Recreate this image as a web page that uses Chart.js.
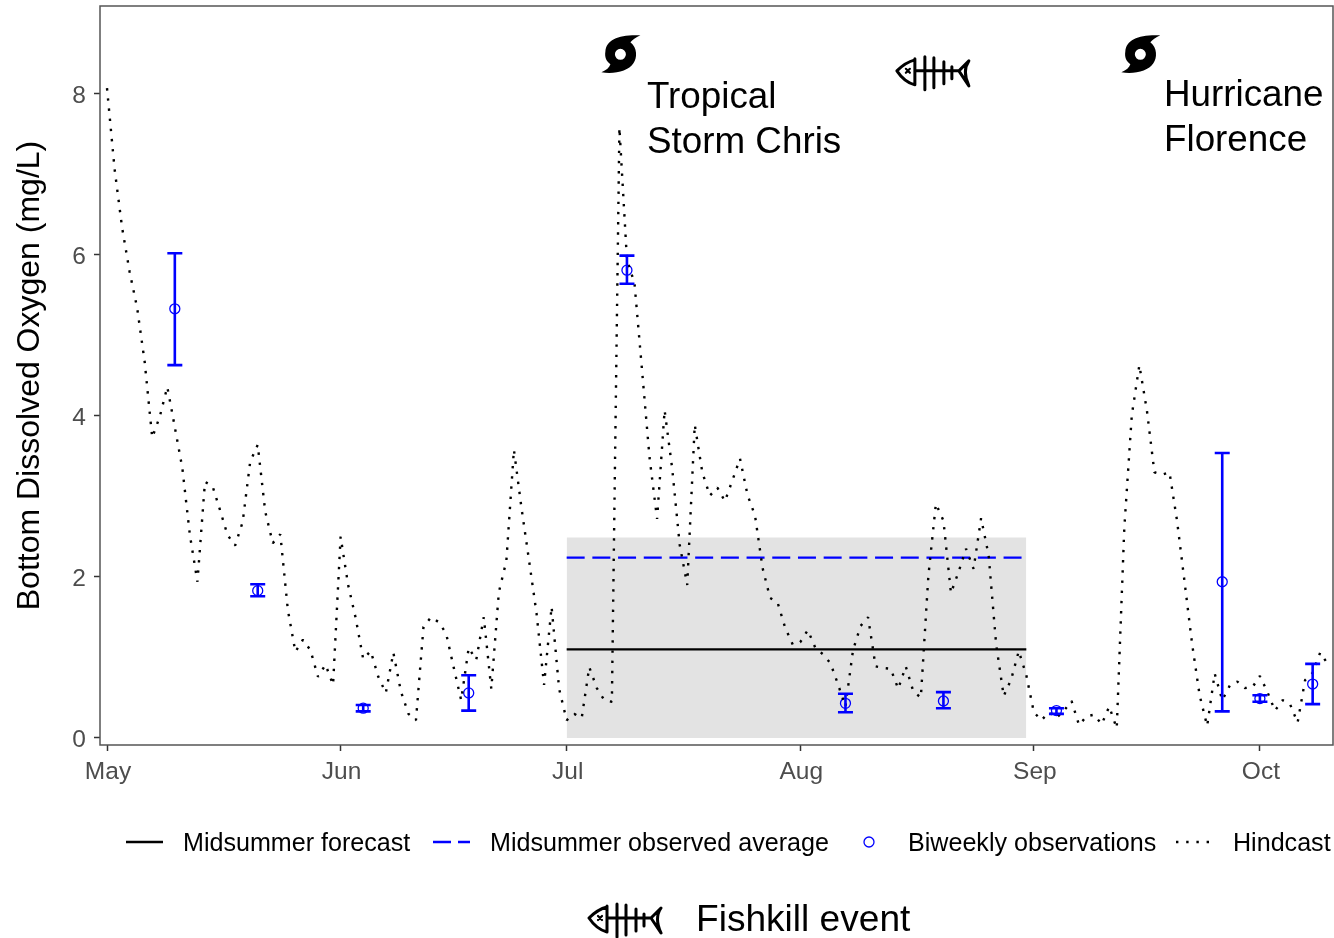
<!DOCTYPE html>
<html>
<head>
<meta charset="utf-8">
<title>Bottom dissolved oxygen</title>
<script src="https://cdn.jsdelivr.net/npm/chart.js@4/dist/chart.umd.js"></script>
<style>
  html, body { margin: 0; background: #fff; }
  canvas { display: block; }
</style>
</head>
<body>
<canvas id="chart" width="1334" height="938"></canvas>
<script>
// days since May 1
const monthDays = [0, 31, 61, 92, 123, 153];
const monthLabels = ['May', 'Jun', 'Jul', 'Aug', 'Sep', 'Oct'];
const doTicks = [0, 2, 4, 6, 8];

// daily hindcast, one value per day from May 1
const hindcast = [
  8.07, 7.07, 6.34, 5.79, 5.34, 4.67, 3.73, 3.99, 4.36, 3.86,
  3.35, 2.52, 1.94, 3.18, 3.13, 2.83, 2.52, 2.39, 2.68, 3.43,
  3.64, 2.81, 2.42, 2.53, 1.59, 1.07, 1.22, 1.09, 0.76, 0.91,
  0.66, 2.50, 1.90, 1.49, 0.98, 1.08, 0.76, 0.56, 1.06, 0.58,
  0.30, 0.22, 1.38, 1.50, 1.44, 1.30, 0.88, 0.47, 1.12, 0.97,
  1.50, 0.61, 1.81, 2.20, 3.58, 2.86, 2.21, 1.55, 0.66, 1.63,
  0.61, 0.22, 0.30, 0.25, 0.88, 0.62, 0.47, 0.45, 7.58, 5.94,
  5.65, 4.57, 3.48, 2.72, 4.07, 3.35, 2.40, 1.90, 3.89, 3.30,
  3.01, 3.11, 2.94, 3.20, 3.47, 3.02, 2.76, 2.11, 1.74, 1.68,
  1.37, 1.16, 1.19, 1.34, 1.12, 1.04, 0.93, 0.67, 0.39, 1.09,
  1.39, 1.50, 0.89, 0.87, 0.86, 0.61, 0.89, 0.58, 0.50, 2.01,
  2.91, 2.70, 1.80, 2.06, 2.35, 2.10, 2.73, 2.27, 1.16, 0.52,
  0.73, 1.08, 0.78, 0.32, 0.22, 0.32, 0.25, 0.34, 0.46, 0.16,
  0.27, 0.29, 0.17, 0.39, 0.12, 2.60, 4.01, 4.63, 4.07, 3.30,
  3.27, 3.30, 2.70, 1.94, 1.17, 0.53, 0.15, 0.80, 0.47, 0.65,
  0.70, 0.62, 0.63, 0.77, 0.57, 0.34, 0.47, 0.42, 0.19, 0.72,
  0.81, 1.06, 0.92
];

// biweekly observations with error bars
const obsDays = [9, 20, 34, 48, 69, 98, 111, 126, 148, 153, 160];
const obsMean = [5.33, 1.83, 0.37, 0.56, 5.81, 0.43, 0.46, 0.34, 1.94, 0.49, 0.67];
const obsHigh = [6.02, 1.91, 0.41, 0.78, 5.99, 0.55, 0.57, 0.37, 3.54, 0.53, 0.92];
const obsLow = [4.63, 1.76, 0.33, 0.34, 5.64, 0.32, 0.37, 0.30, 0.33, 0.45, 0.42];

// midsummer window
const midDays = [61, 122];
const forecastLine = [1.10, 1.10];
const observedLine = [2.24, 2.24];
const ribbonTop = [2.49, 2.49];

const stormDays = [68, 137];
const fishDay = 109.6;

const legendItems = ['Midsummer forecast', 'Midsummer observed average', 'Biweekly observations', 'Hindcast'];

const FONT = '"Liberation Sans", Arial, sans-serif';
const BLUE = '#0000ff';

function drawStorm(ctx, cx, cy) {
  const p = new Path2D();
  p.moveTo(cx - 15, cy - 3);
  p.bezierCurveTo(cx - 14, cy - 15, cx - 1, cy - 20, cx + 20, cy - 19);
  p.bezierCurveTo(cx + 15, cy - 17, cx + 12, cy - 14, cx + 10, cy - 12);
  p.bezierCurveTo(cx + 17, cy - 7, cx + 17, cy + 4, cx + 13, cy + 9);
  p.bezierCurveTo(cx + 8, cy + 17, cx - 6, cy + 20, cx - 19, cy + 18);
  p.bezierCurveTo(cx - 14, cy + 16, cx - 11, cy + 13, cx - 10, cy + 10);
  p.bezierCurveTo(cx - 14, cy + 7, cx - 16, cy + 3, cx - 15, cy - 3);
  p.closePath();
  p.moveTo(cx + 5.5, cy);
  p.arc(cx, cy, 5.5, 0, Math.PI * 2);
  ctx.fillStyle = '#000';
  ctx.fill(p, 'evenodd');
}

function drawFish(ctx, cx, cy) {
  ctx.save();
  ctx.strokeStyle = '#000';
  ctx.lineWidth = 3;
  ctx.lineJoin = 'round';
  ctx.lineCap = 'round';
  ctx.beginPath();
  // head
  ctx.moveTo(cx - 18, cy - 13);
  ctx.bezierCurveTo(cx - 26, cy - 11, cx - 32, cy - 6, cx - 36, cy - 2);
  ctx.bezierCurveTo(cx - 32, cy + 4, cx - 26, cy + 10, cx - 18, cy + 12);
  ctx.moveTo(cx - 18, cy - 14);
  ctx.lineTo(cx - 18, cy + 12);
  // spine and ribs
  ctx.moveTo(cx - 18, cy - 2);
  ctx.lineTo(cx + 26, cy - 2);
  ctx.moveTo(cx - 8, cy - 16);
  ctx.lineTo(cx - 8, cy + 17);
  ctx.moveTo(cx + 1, cy - 15);
  ctx.lineTo(cx + 1, cy + 15);
  ctx.moveTo(cx + 11, cy - 11);
  ctx.lineTo(cx + 11, cy + 11);
  ctx.moveTo(cx + 19, cy - 6);
  ctx.lineTo(cx + 19, cy + 6);
  // tail
  ctx.moveTo(cx + 26, cy - 2);
  ctx.lineTo(cx + 36, cy - 12);
  ctx.quadraticCurveTo(cx + 29, cy - 2, cx + 36, cy + 13);
  ctx.lineTo(cx + 26, cy - 2);
  ctx.stroke();
  // eye
  ctx.lineWidth = 2.2;
  ctx.beginPath();
  ctx.moveTo(cx - 27, cy - 4);
  ctx.lineTo(cx - 23, cy);
  ctx.moveTo(cx - 23, cy - 4);
  ctx.lineTo(cx - 27, cy);
  ctx.stroke();
  ctx.restore();
}

const errorBars = {
  id: 'errorBars',
  afterDatasetsDraw(chart) {
    const x = chart.scales.x, y = chart.scales.y, ctx = chart.ctx;
    ctx.save();
    ctx.strokeStyle = BLUE;
    ctx.lineWidth = 2.6;
    obsDays.forEach(function (d, i) {
      const px = x.getPixelForValue(d);
      const top = y.getPixelForValue(obsHigh[i]);
      const bot = y.getPixelForValue(obsLow[i]);
      ctx.beginPath();
      ctx.moveTo(px, top);
      ctx.lineTo(px, bot);
      ctx.moveTo(px - 7.5, top);
      ctx.lineTo(px + 7.5, top);
      ctx.moveTo(px - 7.5, bot);
      ctx.lineTo(px + 7.5, bot);
      ctx.stroke();
    });
    ctx.restore();
  }
};

const extras = {
  id: 'extras',
  afterDraw(chart) {
    const ctx = chart.ctx, a = chart.chartArea;
    const x = chart.scales.x, y = chart.scales.y;
    ctx.save();

    // panel border
    ctx.strokeStyle = '#555';
    ctx.lineWidth = 1.5;
    ctx.strokeRect(a.left, a.top, a.right - a.left, a.bottom - a.top);

    // storms and fish on the chart
    stormDays.forEach(function (d) {
      drawStorm(ctx, x.getPixelForValue(d) + 1, y.getPixelForValue(8.49));
    });
    drawFish(ctx, x.getPixelForValue(fishDay), y.getPixelForValue(8.26));

    ctx.fillStyle = '#000';
    ctx.textAlign = 'left';
    ctx.textBaseline = 'alphabetic';
    ctx.font = '36.8px ' + FONT;
    ctx.fillText('Tropical', 647, 108);
    ctx.fillText('Storm Chris', 647, 153);
    ctx.fillText('Hurricane', 1164, 106);
    ctx.fillText('Florence', 1164, 151);

    // legend row
    const ly = 842;
    ctx.strokeStyle = '#000';
    ctx.lineWidth = 2.4;
    ctx.beginPath();
    ctx.moveTo(126, ly);
    ctx.lineTo(163, ly);
    ctx.stroke();

    ctx.strokeStyle = BLUE;
    ctx.setLineDash([18, 7]);
    ctx.beginPath();
    ctx.moveTo(433, ly);
    ctx.lineTo(470, ly);
    ctx.stroke();
    ctx.setLineDash([]);

    ctx.lineWidth = 1.3;
    ctx.beginPath();
    ctx.arc(869, ly, 5, 0, Math.PI * 2);
    ctx.stroke();

    ctx.strokeStyle = '#000';
    ctx.lineWidth = 2.4;
    ctx.setLineDash([2.4, 7.8]);
    ctx.beginPath();
    ctx.moveTo(1176, ly);
    ctx.lineTo(1212, ly);
    ctx.stroke();
    ctx.setLineDash([]);

    ctx.font = '25.1px ' + FONT;
    ctx.fillText(legendItems[0], 183, 851);
    ctx.fillText(legendItems[1], 490, 851);
    ctx.fillText(legendItems[2], 908, 851);
    ctx.fillText(legendItems[3], 1233, 851);

    // fishkill key
    drawFish(ctx, 625, 920);
    ctx.font = '37.1px ' + FONT;
    ctx.fillText('Fishkill event', 696, 931);
    ctx.restore();
  }
};

function toPoints(days, values) {
  return days.map(function (d, i) { return { x: d, y: values[i] }; });
}

// keep the plot panel where it is, whatever the tick labels want
function noScalePadding(scale) {
  scale.paddingLeft = 0;
  scale.paddingRight = 0;
  scale.paddingTop = 0;
  scale.paddingBottom = 0;
}

const ctx = document.getElementById('chart').getContext('2d');
const chart = new Chart(ctx, {
  type: 'line',
  data: {
    datasets: [
      {
        label: 'Midsummer range',
        data: toPoints(midDays, ribbonTop),
        borderWidth: 0,
        pointRadius: 0,
        backgroundColor: '#e3e3e3',
        fill: { value: 0 },
        order: 5
      },
      {
        label: legendItems[0],
        data: toPoints(midDays, forecastLine),
        borderColor: '#000',
        borderWidth: 2.4,
        pointRadius: 0,
        order: 4
      },
      {
        label: legendItems[1],
        data: toPoints(midDays, observedLine),
        borderColor: BLUE,
        borderWidth: 2.4,
        borderDash: [18, 7.7],
        pointRadius: 0,
        order: 3
      },
      {
        label: legendItems[2],
        data: toPoints(obsDays, obsMean),
        showLine: false,
        pointStyle: 'circle',
        pointRadius: 5,
        pointBorderWidth: 1.3,
        pointBorderColor: BLUE,
        pointBackgroundColor: 'rgba(0,0,0,0)',
        order: 2
      },
      {
        label: legendItems[3],
        data: hindcast.map(function (v, i) { return { x: i, y: v }; }),
        borderColor: '#000',
        borderWidth: 2.4,
        borderDash: [2.4, 7.8],
        borderJoinStyle: 'bevel',
        tension: 0,
        pointRadius: 0,
        order: 1
      }
    ]
  },
  options: {
    responsive: false,
    animation: false,
    layout: { autoPadding: false, padding: { left: 0, right: 1, top: 6, bottom: 133 } },
    plugins: {
      legend: { display: false },
      tooltip: { enabled: false }
    },
    scales: {
      x: {
        type: 'linear',
        min: -0.93,
        max: 162.7,
        afterBuildTicks: function (scale) {
          scale.ticks = monthDays.map(function (v) { return { value: v }; });
        },
        afterFit: function (scale) { scale.height = 60; noScalePadding(scale); },
        grid: { drawOnChartArea: false, tickLength: 6, tickColor: '#333', tickWidth: 1.5 },
        border: { display: false },
        ticks: {
          color: '#4d4d4d',
          font: { family: FONT, size: 24.5 },
          padding: 7,
          labelOffset: 1,
          autoSkip: false,
          maxRotation: 0,
          callback: function (v) { return monthLabels[monthDays.indexOf(v)]; }
        }
      },
      y: {
        min: -0.087,
        max: 9.09,
        afterBuildTicks: function (scale) {
          scale.ticks = doTicks.map(function (v) { return { value: v }; });
        },
        afterFit: function (scale) { scale.width = 100; noScalePadding(scale); },
        grid: { drawOnChartArea: false, tickLength: 6, tickColor: '#333', tickWidth: 1.5 },
        border: { display: false },
        title: {
          display: true,
          text: 'Bottom Dissolved Oxygen (mg/L)',
          color: '#000',
          font: { family: FONT, size: 32 },
          padding: { top: 11, bottom: 0 }
        },
        ticks: {
          color: '#4d4d4d',
          font: { family: FONT, size: 24.5 },
          padding: 8,
          labelOffset: 2,
          callback: function (v) { return String(v); }
        }
      }
    }
  },
  plugins: [errorBars, extras]
});
</script>
</body>
</html>
